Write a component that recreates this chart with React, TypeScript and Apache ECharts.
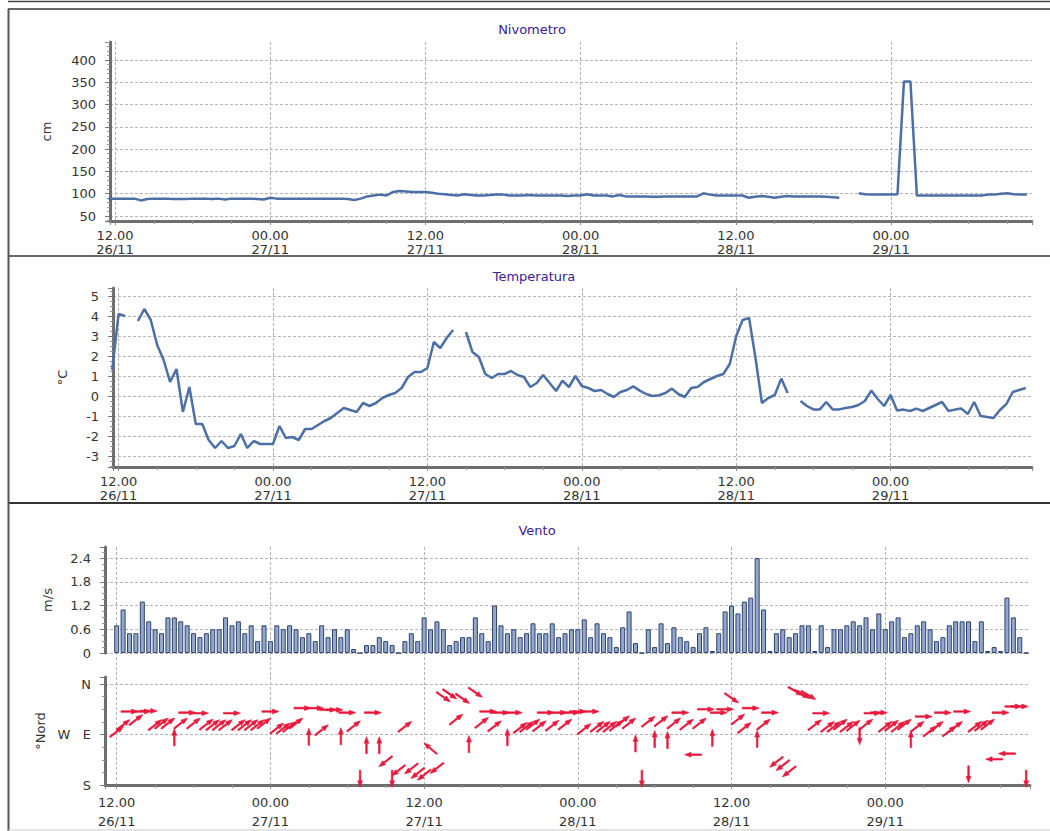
import React, { useEffect, useRef } from "react";
import * as echarts from "echarts";

const FONT = "DejaVu Sans";

// hours counted from 26/11 00:00
const START_HOUR = 11.5;
const WIND_START_HOUR = 12;
const STEP_HOURS = 0.5;

const nivometroCm = [
  89, 89, 89, 89, 89, 85, 88, 89, 89, 89,
  88, 88, 88, 89, 89, 89, 88, 89, 87, 89,
  89, 89, 89, 88, 87, 91, 89, 89, 89, 89,
  89, 89, 89, 89, 89, 89, 89, 88, 86, 89,
  94, 96, 98, 96, 104, 106, 105, 104, 104, 104,
  102, 100, 99, 97, 96, 99, 97, 96, 96, 97,
  98, 98, 96, 96, 96, 97, 96, 96, 96, 96,
  96, 95, 96, 96, 99, 96, 96, 96, 94, 97,
  94, 94, 94, 94, 93, 93, 94, 94, 94, 94,
  94, 94, 101, 98, 96, 96, 96, 96, 96, 91,
  93, 95, 93, 91, 93, 95, 94, 94, 94, 94,
  94, 93, 92, 91, null, null, 101, 99, 98, 98,
  98, 98, 99, 352, 352, 96, 96, 96, 96, 96,
  96, 96, 96, 96, 96, 96, 98, 98, 100, 101,
  99, 98, 98,
];

const temperaturaC = [
  1.3, 4.1, 4.0, null, 3.75, 4.35, 3.8, 2.55, 1.8, 0.7,
  1.35, -0.8, 0.45, -1.4, -1.4, -2.2, -2.6, -2.25, -2.6, -2.5,
  -1.9, -2.6, -2.25, -2.4, -2.4, -2.4, -1.5, -2.1, -2.05, -2.2,
  -1.65, -1.65, -1.45, -1.25, -1.1, -0.85, -0.6, -0.7, -0.8, -0.35,
  -0.5, -0.35, -0.1, 0.05, 0.15, 0.4, 0.95, 1.2, 1.2, 1.4,
  2.7, 2.4, 2.9, 3.3, null, 3.2, 2.2, 1.95, 1.1, 0.9,
  1.1, 1.1, 1.25, 1.05, 0.95, 0.45, 0.65, 1.05, 0.65, 0.25,
  0.77, 0.45, 1.0, 0.5, 0.4, 0.25, 0.3, 0.1, -0.05, 0.2,
  0.3, 0.48, 0.27, 0.1, 0.0, 0.04, 0.15, 0.37, 0.1, -0.05,
  0.4, 0.45, 0.7, 0.85, 1.0, 1.1, 1.6, 3.0, 3.8, 3.9,
  1.9, -0.35, -0.1, 0.05, 0.87, 0.15, null, -0.25, -0.5, -0.67,
  -0.67, -0.3, -0.67, -0.67, -0.6, -0.55, -0.45, -0.25, 0.27, -0.15,
  -0.5, 0.05, -0.73, -0.68, -0.75, -0.63, -0.75, -0.6, -0.45, -0.3,
  -0.75, -0.68, -0.63, -0.9, -0.3, -1.0, -1.05, -1.1, -0.7, -0.4,
  0.2, 0.3, 0.4,
];

const ventoMs = [
  0.7, 1.1, 0.5, 0.5, 1.3, 0.8, 0.6, 0.5, 0.9, 0.9,
  0.8, 0.7, 0.5, 0.4, 0.5, 0.6, 0.6, 0.9, 0.7, 0.8,
  0.5, 0.7, 0.3, 0.7, 0.3, 0.7, 0.6, 0.7, 0.6, 0.4,
  0.5, 0.3, 0.7, 0.4, 0.6, 0.4, 0.6, 0.1, 0, 0.2,
  0.2, 0.4, 0.3, 0.2, 0, 0.3, 0.5, 0.3, 0.9, 0.6,
  0.8, 0.6, 0.2, 0.3, 0.4, 0.4, 0.9, 0.5, 0.3, 1.2,
  0.7, 0.5, 0.6, 0.4, 0.5, 0.75, 0.5, 0.5, 0.75, 0.4,
  0.5, 0.6, 0.6, 0.85, 0.4, 0.75, 0.5, 0.4, 0.15, 0.65,
  1.05, 0.25, 0, 0.6, 0.15, 0.75, 0.25, 0.65, 0.4, 0.3,
  0.15, 0.5, 0.65, 0.05, 0.5, 1.05, 1.2, 1.0, 1.3, 1.4,
  2.4, 1.1, 0.05, 0.5, 0.6, 0.4, 0.5, 0.7, 0.7, 0.05,
  0.7, 0.15, 0.6, 0.6, 0.7, 0.8, 0.7, 0.9, 0.6, 1.0,
  0.6, 0.8, 0.9, 0.4, 0.5, 0.7, 0.8, 0.6, 0.3, 0.4,
  0.7, 0.8, 0.8, 0.8, 0.3, 0.8, 0.05, 0.15, 0.05, 1.4,
  0.9, 0.4, 0,
];

// position on the °Nord axis (0 = N, 90 = W/E, 180 = S)
const ventoDirPos = [
  85, 73, 49, 64, 49, 48, 73, 70, 70, 95,
  70, 51, 70, 52, 72, 73, 73, 73, 52, 73,
  73, 73, 73, 70, 49, 79, 79, 76, 70, 43,
  94, 43, 82, 46, 46, 93, 51, 75, 169, 109,
  51, 109, 138, 169, 154, 76, 151, 159, 162, 115,
  150, 23, 18, 63, 26, 107, 15, 69, 49, 75,
  51, 95, 51, 78, 76, 72, 75, 51, 74, 51,
  72, 51, 49, 80, 49, 76, 76, 76, 74, 66,
  70, 106, 169, 67, 98, 66, 100, 70, 51, 72,
  126, 70, 45, 96, 51, 45, 25, 63, 78, 43,
  98, 72, 51, 139, 145, 156, 13, 18, 20, 73,
  52, 76, 76, 72, 76, 74, 93, 72, 52, 51,
  76, 74, 76, 72, 98, 76, 58, 84, 76, 51,
  84, 76, 49, 161, 76, 74, 72, 134, 51, 124,
  40, 40, 169,
];

// arrow heading as drawn (0 = up, 90 = right, 180 = down, 270 = left)
const ventoArrowHeading = [
  52, 52, 90, 52, 90, 90, 52, 52, 52, 0,
  52, 90, 52, 90, 52, 52, 52, 52, 90, 52,
  52, 52, 52, 52, 90, 52, 52, 52, 52, 90,
  0, 90, 52, 90, 90, 0, 90, 52, 180, 0,
  90, 0, 232, 180, 232, 52, 232, 232, 232, 310,
  232, 125, 125, 52, 125, 0, 125, 52, 90, 52,
  90, 0, 90, 52, 52, 52, 52, 90, 52, 90,
  52, 90, 90, 52, 90, 52, 52, 52, 52, 52,
  52, 0, 180, 52, 0, 52, 0, 52, 90, 52,
  270, 52, 90, 0, 90, 90, 125, 52, 52, 90,
  0, 52, 90, 232, 232, 232, 120, 120, 120, 52,
  90, 52, 52, 52, 52, 52, 180, 52, 90, 90,
  52, 52, 52, 52, 0, 52, 90, 52, 52, 90,
  52, 52, 90, 180, 52, 52, 52, 270, 90, 270,
  90, 90, 180,
];

const DIR_LABELS: Record<string, string> = { "0": "N", "90": "W   E", "180": "S" };

const ARROW = "path://M3,17L3,6.5L0,6.5L4.5,0L9,6.5L6,6.5L6,17Z";

const AXIS_LINE = { color: "#6e6e6e", width: 3 };
const GRID_LINE = { color: "#b4b4b4", width: 1, type: [3, 2] as number[] };
const LABEL_COLOR = "#333";
const TITLE_COLOR = "#3b2194";
const LINE_COLOR = "#4c6fa6";

function pairs(values: (number | null)[], start: number) {
  return values.map((v, i) => [start + STEP_HOURS * i, v]);
}

function fmtHour(v: number) {
  const r = Math.round(v);
  const h = ((r % 24) + 24) % 24;
  const d = 26 + Math.floor(r / 24);
  return `${String(h).padStart(2, "0")}.00\n${d}/11`;
}

function xAxis(
  gridIndex: number,
  min: number,
  max: number,
  o: { labels: boolean; line: boolean; split: boolean; lineHeight?: number; margin?: number }
) {
  return {
    type: "value",
    gridIndex,
    min,
    max,
    minInterval: 12,
    maxInterval: 12,
    axisLine: { show: o.line, onZero: false, lineStyle: AXIS_LINE },
    axisTick: { show: o.line, length: 4, lineStyle: { color: "#888" } },
    minorTick: { show: o.line, splitNumber: 4, length: 3, lineStyle: { color: "#999" } },
    axisLabel: {
      show: o.labels,
      formatter: fmtHour,
      fontFamily: FONT,
      fontSize: 13,
      color: LABEL_COLOR,
      lineHeight: o.lineHeight ?? 14,
      margin: o.margin ?? 7,
      showMinLabel: false,
      showMaxLabel: false,
    },
    splitLine: { show: o.split, showMinLine: false, showMaxLine: false, lineStyle: GRID_LINE },
  };
}

function yAxis(
  gridIndex: number,
  min: number,
  max: number,
  o: {
    step: number;
    minor: number;
    name: string;
    nameGap: number;
    showMin: boolean;
    inverse?: boolean;
    formatter?: (v: number) => string;
    showMaxLabel?: boolean;
  }
) {
  return {
    type: "value",
    gridIndex,
    min,
    max,
    inverse: !!o.inverse,
    minInterval: o.step,
    maxInterval: o.step,
    name: o.name,
    nameLocation: "middle",
    nameGap: o.nameGap,
    nameRotate: 90,
    nameTextStyle: { fontFamily: FONT, fontSize: 13, color: LABEL_COLOR },
    axisLine: { show: true, onZero: false, lineStyle: AXIS_LINE },
    axisTick: { show: true, length: 5, lineStyle: { color: "#777" } },
    minorTick: { show: true, splitNumber: o.minor, length: 3, lineStyle: { color: "#999" } },
    axisLabel: {
      fontFamily: FONT,
      fontSize: 13,
      color: LABEL_COLOR,
      margin: 14,
      showMinLabel: o.showMin,
      showMaxLabel: !!o.showMaxLabel,
      formatter: o.formatter,
    },
    splitLine: {
      show: true,
      showMinLine: o.showMin,
      showMaxLine: !!o.showMaxLabel,
      lineStyle: GRID_LINE,
    },
  };
}

function buildOption() {
  const titleStyle = { fontFamily: FONT, fontSize: 13, fontWeight: "normal", color: TITLE_COLOR };
  return {
    animation: false,
    backgroundColor: "#ffffff",
    textStyle: { fontFamily: FONT },
    title: [
      { text: "Nivometro", left: 527, top: 18, textAlign: "center", textStyle: titleStyle },
      { text: "Temperatura", left: 529, top: 265, textAlign: "center", textStyle: titleStyle },
      { text: "Vento", left: 532, top: 519, textAlign: "center", textStyle: titleStyle },
    ],
    grid: [
      { left: 110, right: 18, top: 42, bottom: 610, containLabel: false, outerBoundsMode: "none" },
      { left: 113, right: 18, top: 288, bottom: 364, containLabel: false, outerBoundsMode: "none" },
      { left: 105, right: 20, top: 547, bottom: 178, containLabel: false, outerBoundsMode: "none" },
      { left: 105, right: 20, top: 677, bottom: 46, containLabel: false, outerBoundsMode: "none" },
      { left: 105, right: 20, top: 547, bottom: 46, containLabel: false, outerBoundsMode: "none" },
    ],
    xAxis: [
      xAxis(0, 11.613, 82.9, { labels: true, line: true, split: true }),
      xAxis(1, 11.565, 82.99, { labels: true, line: true, split: true }),
      xAxis(2, 11.087, 83.3, { labels: false, line: false, split: false }),
      xAxis(3, 11.087, 83.3, { labels: true, line: true, split: false, lineHeight: 19, margin: 8 }),
      xAxis(4, 11.087, 83.3, { labels: false, line: false, split: true }),
    ],
    yAxis: [
      yAxis(0, 38.8, 440.4, { step: 50, minor: 5, name: "cm", nameGap: 57, showMin: false }),
      yAxis(1, -3.55, 5.4, { step: 1, minor: 4, name: "°C", nameGap: 44, showMin: false }),
      yAxis(2, 0, 2.68, { step: 0.6, minor: 4, name: "m/s", nameGap: 51, showMin: true }),
      yAxis(3, -12.5, 180, {
        step: 90,
        minor: 4,
        name: "°Nord",
        nameGap: 56,
        showMin: false,
        inverse: true,
        showMaxLabel: true,
        formatter: (v: number) => DIR_LABELS[String(Math.round(v) + 0)] ?? "",
      }),
      { type: "value", gridIndex: 4, show: false, min: 0, max: 1 },
    ],
    series: [
      {
        type: "line",
        name: "Nivometro",
        xAxisIndex: 0,
        yAxisIndex: 0,
        data: pairs(nivometroCm, START_HOUR),
        showSymbol: false,
        connectNulls: false,
        lineStyle: { color: LINE_COLOR, width: 2.5 },
        itemStyle: { color: LINE_COLOR },
      },
      {
        type: "line",
        name: "Temperatura",
        xAxisIndex: 1,
        yAxisIndex: 1,
        data: pairs(temperaturaC, START_HOUR),
        showSymbol: false,
        connectNulls: false,
        lineStyle: { color: LINE_COLOR, width: 2.5 },
        itemStyle: { color: LINE_COLOR },
      },
      {
        type: "bar",
        name: "Velocità",
        xAxisIndex: 2,
        yAxisIndex: 2,
        data: pairs(ventoMs, WIND_START_HOUR),
        barWidth: 5,
        itemStyle: { color: "#93a8cc", borderColor: "#2d426e", borderWidth: 1 },
      },
      {
        type: "scatter",
        name: "Direzione",
        xAxisIndex: 3,
        yAxisIndex: 3,
        clip: false,
        symbol: ARROW,
        symbolSize: [9, 17],
        symbolKeepAspect: true,
        itemStyle: { color: "#e8193c", opacity: 1, borderColor: "#e8193c", borderWidth: 0.6 },
        data: ventoDirPos.map((p, i) => ({
          value: [WIND_START_HOUR + STEP_HOURS * i, p],
          symbolRotate: -ventoArrowHeading[i],
        })),
      },
    ],
    graphic: [
      { type: "line", shape: { x1: 8, y1: 1.5, x2: 1050, y2: 1.5 }, style: { stroke: "#444", lineWidth: 1.5 } },
      { type: "line", shape: { x1: 8, y1: 9, x2: 1050, y2: 9 }, style: { stroke: "#333", lineWidth: 1.5 } },
      { type: "line", shape: { x1: 8, y1: 256, x2: 1050, y2: 256 }, style: { stroke: "#333", lineWidth: 1.5 } },
      { type: "line", shape: { x1: 8, y1: 503, x2: 1050, y2: 503 }, style: { stroke: "#333", lineWidth: 2 } },
      { type: "line", shape: { x1: 8.5, y1: 9, x2: 8.5, y2: 831 }, style: { stroke: "#555", lineWidth: 2 } },
      { type: "line", shape: { x1: 8, y1: 830, x2: 1050, y2: 830 }, style: { stroke: "#c8c8c8", lineWidth: 1 } },
    ],
  };
}

export default function App() {
  const ref = useRef<HTMLDivElement>(null);
  useEffect(() => {
    if (!ref.current) return;
    const chart = echarts.init(ref.current, null, { renderer: "svg" });
    chart.setOption(buildOption() as any);
    return () => chart.dispose();
  }, []);
  return (
    <div
      ref={ref}
      style={{ position: "fixed", left: 0, top: 0, width: 1050, height: 831, background: "#fff" }}
    />
  );
}
